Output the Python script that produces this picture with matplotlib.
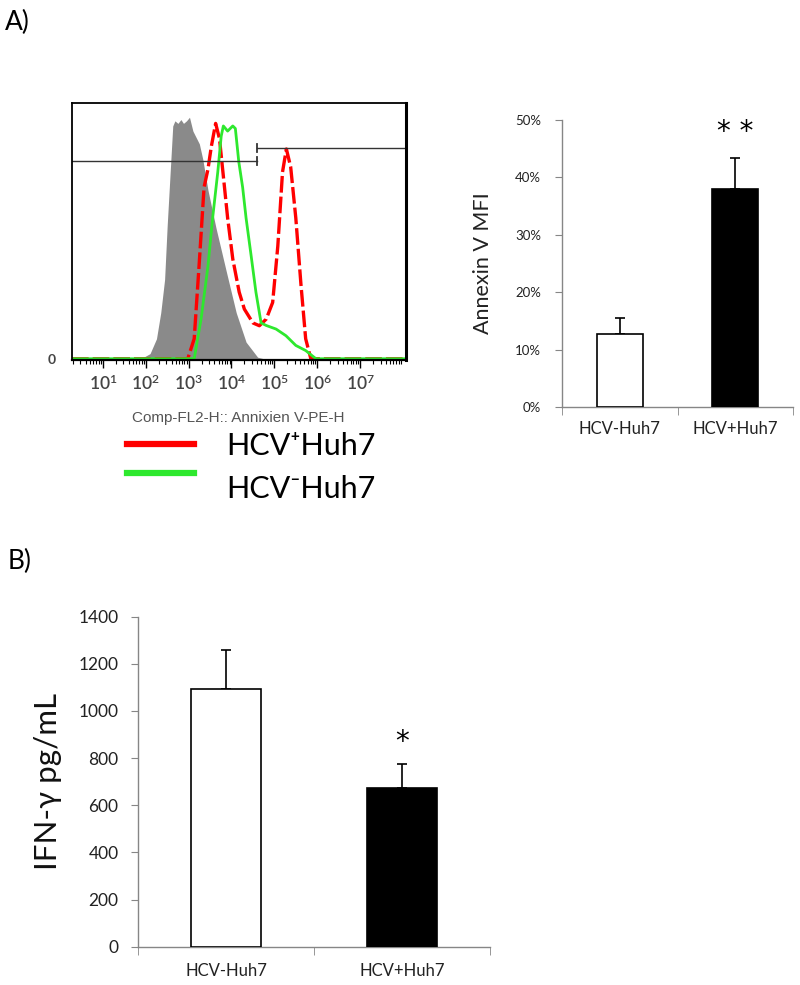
import numpy as np
import matplotlib.pyplot as plt
from matplotlib.lines import Line2D
from matplotlib.ticker import FixedLocator, LogLocator, NullFormatter, PercentFormatter

plt.rcParams['font.family'] = ['Lato', 'DejaVu Sans']

# flow histogram (x in log10 decades, y in % of modal count)
gray_x = [1.80, 1.94, 2.10, 2.25, 2.35, 2.44, 2.50, 2.56, 2.63, 2.68, 2.75, 2.82, 2.88, 2.95, 3.02,
          3.10, 3.25, 3.33, 3.45, 3.64, 3.88, 4.11, 4.34, 4.61, 4.75]
gray_y = [0, 0.5, 2, 7.8, 18, 31, 52, 70, 91, 93, 92, 93.5, 92, 93, 94.4,
          89, 84, 78, 66, 51, 34, 18, 6.5, 0.6, 0]

red_x = [0.28, 2.98, 3.13, 3.25, 3.36, 3.45, 3.53, 3.63, 3.72, 3.80, 3.91, 4.03, 4.18, 4.30,
         4.50, 4.65, 4.81, 4.96, 5.08, 5.19, 5.28, 5.38, 5.50, 5.62, 5.73, 5.85, 8.07]
red_y = [0, 0, 7.8, 38, 67, 74, 83, 92, 86, 73, 55, 39, 26, 19.4,
         14, 12.9, 15.5, 22, 44, 73, 82, 75, 55, 29, 7.8, 0, 0]

green_x = [0.28, 3.13, 3.29, 3.45, 3.56, 3.68, 3.76, 3.81, 3.91, 4.03, 4.09, 4.17, 4.26, 4.34,
           4.46, 4.57, 4.69, 4.81, 5.04, 5.27, 5.50, 5.73, 5.97, 8.07]
green_y = [0, 0, 15.5, 36, 55, 73, 87, 91, 89, 91, 90, 77, 67, 55,
           40, 26, 14, 13, 11.6, 9, 5.2, 3.2, 0, 0]

# gates: (start decade, end decade, level)
gate_left = (0.28, 4.60, 77.4)
gate_right = (4.60, 8.07, 82.5)

legend_labels = ['HCV\u207aHuh7', 'HCV\u207bHuh7']

# bar panels
groups = ['HCV-Huh7', 'HCV+Huh7']
annexin = [0.128, 0.379]
annexin_err = [0.0265, 0.054]
annexin_sig = ['', '* *']
ifng = [1093, 673]
ifng_err = [166, 102]
ifng_sig = ['', '*']
bar_colors = ['white', 'black']

fig = plt.figure(figsize=(8, 9.85), dpi=100)

# ---- histogram ----
ax1 = fig.add_axes([0.09, 0.6345, 0.4175, 0.261])
ax1.fill_between(10 ** np.array(gray_x), gray_y, color='#8a8a8a', lw=0)
ax1.plot(10 ** np.array(red_x), red_y, color='red', lw=2.4, ls=(0, (5, 1.2)))
ax1.plot(10 ** np.array(green_x), green_y, color='#2ee82e', lw=2)
for g in (gate_left, gate_right):
    ax1.plot([10 ** g[0], 10 ** g[1]], [g[2], g[2]], color='#333333', lw=1)
    ax1.plot([10 ** 4.60, 10 ** 4.60], [g[2] - 1.6, g[2] + 1.6], color='#333333', lw=1.3)
ax1.set_xscale('log')
ax1.set_xlim(10 ** 0.28, 10 ** 8.07)
ax1.set_ylim(-0.5, 100)
ax1.xaxis.set_major_locator(FixedLocator([10.0 ** d for d in range(1, 8)]))
ax1.xaxis.set_minor_locator(LogLocator(base=10, subs=np.arange(2, 10), numticks=20))
ax1.xaxis.set_minor_formatter(NullFormatter())
ax1.tick_params(axis='x', which='major', length=6, width=1, direction='out', pad=4,
                labelsize=12.5, labelcolor='#444444')
ax1.tick_params(axis='x', which='minor', length=3, width=0.8, direction='out')
for lab in ax1.get_xticklabels():
    lab.set_fontweight('semibold')
ax1.set_yticks([0])
ax1.set_yticklabels(['0'])
ax1.tick_params(axis='y', length=0, pad=12, labelsize=10, labelcolor='#444444')
for lab in ax1.get_yticklabels():
    lab.set_fontweight('bold')
for s in ax1.spines.values():
    s.set_linewidth(1.3)
ax1.spines['right'].set_linewidth(2.2)
ax1.spines['bottom'].set_linewidth(1.6)
fig.text(238 / 800, 1 - 418 / 985, 'Comp-FL2-H:: Annixien V-PE-H', ha='center', va='center',
         fontsize=11, color='#555555', family='Liberation Sans')

# legend drawn by hand
leg_line_y = [444, 473]
leg_text_y = [446, 489]
for lab, c, ly, ty in zip(legend_labels, ['red', '#2ee82e'], leg_line_y, leg_text_y):
    fig.add_artist(Line2D([127 / 800, 194 / 800], [1 - ly / 985, 1 - ly / 985], color=c, lw=4.5))
    fig.text(226 / 800, 1 - ty / 985, lab, ha='left', va='center', fontsize=22, color='black')


def style_bar_axes(ax, tick_size, xlab_size, xpad, ypad):
    for s in ['top', 'right']:
        ax.spines[s].set_visible(False)
    for s in ['left', 'bottom']:
        ax.spines[s].set_color('#868686')
        ax.spines[s].set_linewidth(1)
    ax.set_xlim(-0.5, 1.5)
    ax.set_xticks([0, 1])
    ax.set_xticklabels(groups)
    ax.set_xticks([-0.5, 0.5, 1.5], minor=True)
    ax.tick_params(axis='x', which='major', length=0, pad=xpad, labelsize=xlab_size, labelcolor='#222222')
    ax.tick_params(axis='x', which='minor', length=6, color='#868686', direction='out')
    ax.tick_params(axis='y', length=5, color='#868686', direction='out', pad=ypad,
                   labelsize=tick_size, labelcolor='#222222')


# ---- Annexin V panel ----
ax2 = fig.add_axes([0.7025, 0.5868, 0.2888, 0.2914])
x = np.arange(len(groups))
ax2.bar(x, annexin, width=0.4, color=bar_colors, edgecolor='black', lw=1.2, zorder=3)
ax2.errorbar(x, annexin, yerr=[[0, 0], annexin_err], fmt='none', ecolor='black',
             elinewidth=1.2, capsize=3.6, capthick=1.2, zorder=2)
for xi, v, e, s in zip(x, annexin, annexin_err, annexin_sig):
    if s:
        ax2.annotate(s, (xi, v + e), xytext=(0, 9), textcoords='offset points',
                     ha='center', va='bottom', fontsize=20, family='DejaVu Sans')
ax2.set_ylim(0, 0.5)
ax2.set_yticks(np.arange(0, 0.51, 0.1))
ax2.yaxis.set_major_formatter(PercentFormatter(1.0, decimals=0))
style_bar_axes(ax2, 9.5, 12, 10, 10)
ax2.set_ylabel('Annexin V MFI', fontsize=15.5, color='#222222')
ax2.yaxis.set_label_coords(-0.30, 0.5)

# ---- IFN-gamma panel ----
ax3 = fig.add_axes([0.1725, 0.0389, 0.44, 0.335])
ax3.bar(x, ifng, width=0.4, color=bar_colors, edgecolor='black', lw=1.2, zorder=3)
ax3.errorbar(x, ifng, yerr=[[0, 0], ifng_err], fmt='none', ecolor='black',
             elinewidth=1.2, capsize=3.6, capthick=1.2, zorder=2)
for xi, v, e, s in zip(x, ifng, ifng_err, ifng_sig):
    if s:
        ax3.annotate(s, (xi, v + e), xytext=(0, 6), textcoords='offset points',
                     ha='center', va='bottom', fontsize=20, family='DejaVu Sans')
ax3.set_ylim(0, 1400)
ax3.set_yticks(np.arange(0, 1401, 200))
style_bar_axes(ax3, 12.5, 12, 12, 9)
ax3.set_ylabel('IFN-\u03b3 pg/mL', fontsize=22.5, color='#111111')
ax3.yaxis.set_label_coords(-0.215, 0.5)

fig.text(0.006, 1 - 22 / 985, 'A)', fontsize=19, va='center', ha='left')
fig.text(0.010, 1 - 561 / 985, 'B)', fontsize=19, va='center', ha='left')

fig.savefig('out.png', dpi=100)
